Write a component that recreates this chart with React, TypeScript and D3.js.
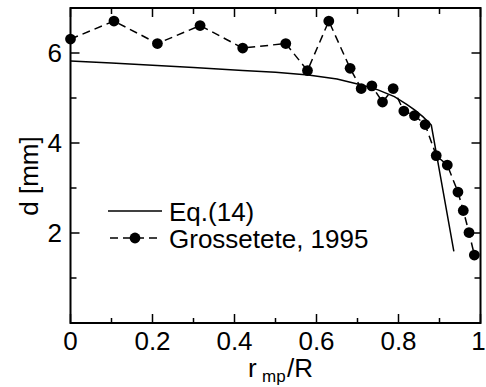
import React from "react";
import * as d3 from "d3";

// Eq.(14) model curve
const eqX = [0, 0.1, 0.2, 0.3, 0.42, 0.5, 0.58, 0.65, 0.71, 0.75, 0.79, 0.82, 0.84, 0.86, 0.88, 0.935];
const eqY = [5.82, 5.78, 5.73, 5.68, 5.61, 5.57, 5.51, 5.42, 5.29, 5.18, 5.03, 4.86, 4.73, 4.58, 4.4, 1.59];

// Grossetete, 1995 measurements
const grX = [0.0, 0.106, 0.212, 0.316, 0.42, 0.525, 0.578, 0.63, 0.682, 0.709, 0.735, 0.761, 0.787, 0.813, 0.839, 0.865, 0.892, 0.919, 0.945, 0.958, 0.972, 0.985];
const grY = [6.31, 6.71, 6.21, 6.61, 6.11, 6.21, 5.61, 6.71, 5.66, 5.21, 5.27, 4.91, 5.21, 4.71, 4.61, 4.41, 3.72, 3.51, 2.91, 2.5, 2.01, 1.51];

const xTicks = [0, 0.2, 0.4, 0.6, 0.8, 1];
const xMinor = [0.1, 0.3, 0.5, 0.7, 0.9];
const yTicks = [2, 4, 6];
const yMinor = [1, 3, 5];

const W = 486;
const H = 387;
const font = "'Liberation Sans', Arial, Helvetica, sans-serif";

const App = () => {
  const x = d3.scaleLinear().domain([0, 1]).range([70.5, 480.5]);
  const y = d3.scaleLinear().domain([0, 7]).range([323, 8]);
  const [x0, x1] = x.range();
  const [y0, y1] = y.range();

  const eq = eqX.map((v, i) => [v, eqY[i]] as [number, number]);
  const gr = grX.map((v, i) => [v, grY[i]] as [number, number]);
  const line = d3
    .line<[number, number]>()
    .x((d) => x(d[0]))
    .y((d) => y(d[1]));

  const major = 9;
  const minor = 6;

  return (
    <svg
      width={W}
      height={H}
      style={{ position: "absolute", left: 0, top: 0, background: "#fff" }}
      fontFamily={font}
    >
      <rect width={W} height={H} fill="#fff" />

      {/* curves */}
      <path d={line(eq) || ""} fill="none" stroke="#000" strokeWidth={1.5} />
      <path d={line(gr) || ""} fill="none" stroke="#000" strokeWidth={1.5} strokeDasharray="8,5" />
      {gr.map((d, i) => (
        <circle key={i} cx={x(d[0])} cy={y(d[1])} r={5.4} fill="#000" />
      ))}

      {/* ticks */}
      <g stroke="#000" strokeWidth={1.5}>
        {xTicks.map((t) => (
          <g key={"xt" + t}>
            <line x1={x(t)} x2={x(t)} y1={y0} y2={y0 - major} />
            <line x1={x(t)} x2={x(t)} y1={y1} y2={y1 + major} />
          </g>
        ))}
        {xMinor.map((t) => (
          <g key={"xm" + t}>
            <line x1={x(t)} x2={x(t)} y1={y0} y2={y0 - minor + 1} />
            <line x1={x(t)} x2={x(t)} y1={y1} y2={y1 + minor} />
          </g>
        ))}
        {yTicks.map((t) => (
          <g key={"yt" + t}>
            <line x1={x0} x2={x0 + major} y1={y(t)} y2={y(t)} />
            <line x1={x1} x2={x1 - major} y1={y(t)} y2={y(t)} />
          </g>
        ))}
        {yMinor.map((t) => (
          <g key={"ym" + t}>
            <line x1={x0} x2={x0 + minor} y1={y(t)} y2={y(t)} />
            <line x1={x1} x2={x1 - minor} y1={y(t)} y2={y(t)} />
          </g>
        ))}
      </g>

      {/* frame */}
      <rect x={x0} y={y1} width={x1 - x0} height={y0 - y1} fill="none" stroke="#000" strokeWidth={2} />

      {/* tick labels */}
      <g fontSize={26} fill="#000">
        {xTicks.map((t) => (
          <text key={"xl" + t} x={t === 1 ? x(t) - 2 : x(t)} y={350} textAnchor="middle">
            {t === 0 || t === 1 ? String(t) : t.toFixed(1)}
          </text>
        ))}
        {yTicks.map((t) => (
          <text key={"yl" + t} x={62} y={y(t)} dy="0.35em" textAnchor="end">
            {t}
          </text>
        ))}
      </g>

      {/* axis titles */}
      <text y={377} fontSize={26} fill="#000">
        <tspan x={248}>r</tspan>
        <tspan x={262} fontSize={17} dy={5}>mp</tspan>
        <tspan x={287} dy={-5}>/R</tspan>
      </text>
      <text transform="translate(38,176) rotate(-90)" textAnchor="middle" fontSize={26} fill="#000">
        d [mm]
      </text>

      {/* legend */}
      <g>
        <line x1={108} x2={162} y1={211} y2={211} stroke="#000" strokeWidth={1.5} />
        <text x={169} y={221} fontSize={26} fill="#000">Eq.(14)</text>
        <line x1={108} x2={162} y1={238} y2={238} stroke="#000" strokeWidth={1.5} strokeDasharray="8,5" strokeDashoffset={-2} />
        <circle cx={135} cy={238} r={5.4} fill="#000" />
        <text x={169} y={248} fontSize={26} fill="#000">Grossetete, 1995</text>
      </g>
    </svg>
  );
};

export default App;
